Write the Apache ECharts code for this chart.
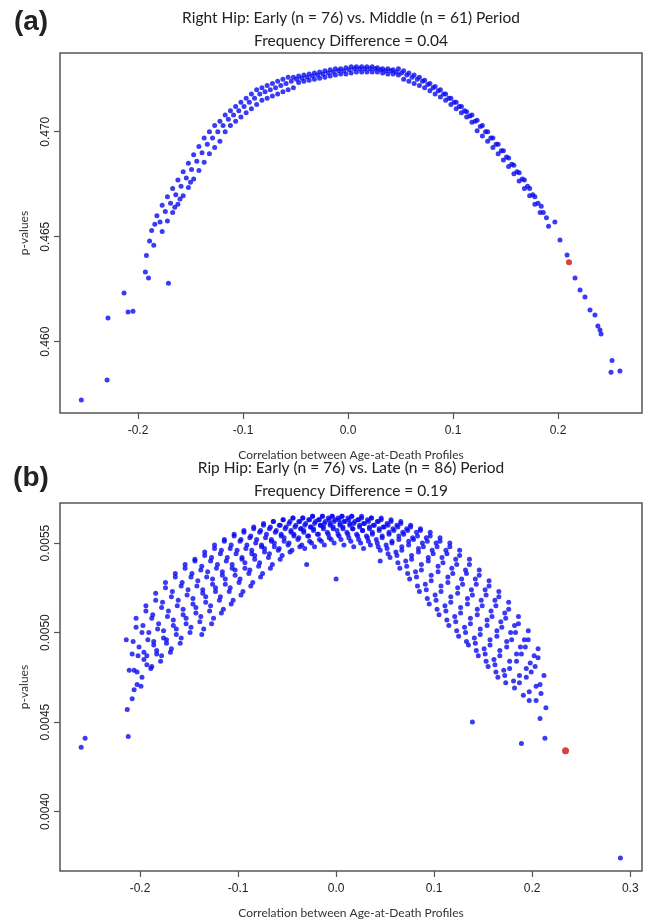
<!DOCTYPE html>
<html>
<head>
<meta charset="utf-8">
<script src="https://cdn.jsdelivr.net/npm/echarts@6/dist/echarts.min.js"></script>
<style>
html,body{margin:0;padding:0;background:#fff;}
#chart{width:647px;height:920px;}
</style>
</head>
<body>
<div id="chart"></div>
<script>
// ---------- DATA ----------
const titleA1 = 'Right Hip: Early (n = 76) vs. Middle (n = 61) Period';
const titleA2 = 'Frequency Difference = 0.04';
const titleB1 = 'Rip Hip: Early (n = 76) vs. Late (n = 86) Period';
const titleB2 = 'Frequency Difference = 0.19';
const xName = 'Correlation between Age-at-Death Profiles';
const yName = 'p-values';

const xTicksA = [-0.2, -0.1, 0.0, 0.1, 0.2];
const yTicksA = [0.460, 0.465, 0.470];
const xTicksB = [-0.2, -0.1, 0.0, 0.1, 0.2, 0.3];
const yTicksB = [0.0040, 0.0045, 0.0050, 0.0055];

// panel (a): [correlation, p-value]
const pointsA = [
[-0.254,0.45722],[-0.2295,0.45818],[-0.2286,0.46113],[-0.2133,0.46232],[-0.2095,0.46141],[-0.2048,0.46145],
[-0.193,0.46332],[-0.190,0.46303],[-0.192,0.4641],[-0.189,0.4648],[-0.187,0.4653],[-0.185,0.4646],[-0.184,0.4656],[-0.171,0.46278],
[-0.182,0.4660],[-0.179,0.4657],[-0.177,0.46525],
[-0.177,0.4665],[-0.174,0.4662],[-0.172,0.46575],
[-0.172,0.4669],[-0.169,0.4666],[-0.167,0.46615],
[-0.167,0.4673],[-0.164,0.4670],[-0.162,0.46655],[-0.165,0.4664],
[-0.162,0.4677],[-0.159,0.4674],[-0.157,0.46695],[-0.160,0.4668],
[-0.157,0.4681],[-0.154,0.4678],[-0.152,0.46735],
[-0.152,0.4685],[-0.149,0.4682],[-0.147,0.46775],[-0.150,0.4676],
[-0.147,0.4689],[-0.144,0.4686],[-0.142,0.46815],
[-0.142,0.4693],[-0.139,0.4690],[-0.137,0.46855],
[-0.137,0.4697],[-0.134,0.4694],[-0.132,0.46895],
[-0.132,0.4700],[-0.129,0.4697],[-0.127,0.46925],
[-0.127,0.4703],[-0.124,0.4700],[-0.122,0.46955],
[-0.122,0.4705],[-0.119,0.4703],[-0.117,0.4700],
[-0.117,0.4708],[-0.114,0.4706],[-0.112,0.4703],
[-0.112,0.4710],[-0.109,0.4708],[-0.107,0.4705],
[-0.107,0.4712],[-0.104,0.4710],[-0.102,0.4707],
[-0.102,0.4714],[-0.099,0.4712],[-0.097,0.4709],
[-0.097,0.4716],[-0.094,0.4714],[-0.092,0.4711],
[-0.092,0.4718],[-0.089,0.4716],[-0.087,0.4713],
[-0.087,0.4720],[-0.084,0.4718],[-0.082,0.4715],
[-0.082,0.4721],[-0.079,0.4719],[-0.077,0.4716],
[-0.077,0.4722],[-0.074,0.4720],[-0.072,0.4717],
[-0.072,0.4723],[-0.069,0.4721],[-0.067,0.4718],
[-0.067,0.4724],[-0.064,0.4722],[-0.062,0.4719],
[-0.062,0.4725],[-0.059,0.4723],[-0.057,0.4720],
[-0.057,0.4726],[-0.054,0.4724],[-0.052,0.4721],
[-0.052,0.4726],[-0.049,0.4725],[-0.047,0.47235],
[-0.047,0.47265],[-0.044,0.47255],[-0.042,0.4724],
[-0.042,0.4727],[-0.039,0.4726],[-0.037,0.47245],
[-0.037,0.47275],[-0.034,0.47265],[-0.032,0.4725],
[-0.032,0.4728],[-0.029,0.4727],[-0.027,0.47255],
[-0.027,0.47285],[-0.024,0.47275],[-0.022,0.4726],
[-0.022,0.4729],[-0.019,0.4728],[-0.017,0.47265],
[-0.017,0.47295],[-0.014,0.47285],[-0.012,0.4727],
[-0.012,0.4730],[-0.009,0.4729],[-0.007,0.47275],
[-0.007,0.4730],[-0.004,0.4729],[-0.002,0.47275],
[-0.002,0.47305],[0.001,0.47295],[0.003,0.4728],
[0.003,0.4731],[0.006,0.4730],[0.008,0.47285],
[0.008,0.4731],[0.011,0.4730],[0.013,0.47285],
[0.013,0.4731],[0.016,0.4730],[0.018,0.47285],
[0.018,0.4731],[0.021,0.4730],[0.023,0.47285],
[0.023,0.4731],[0.026,0.4730],[0.028,0.47285],
[0.028,0.47305],[0.031,0.47295],[0.033,0.4728],
[0.033,0.4730],[0.036,0.4729],[0.038,0.47275],
[0.038,0.4730],[0.041,0.4729],[0.043,0.47275],
[0.043,0.47295],[0.046,0.47285],[0.048,0.4727],
[0.048,0.4730],[0.051,0.4728],[0.053,0.4725],
[0.053,0.4729],[0.056,0.4727],[0.058,0.4724],
[0.058,0.4728],[0.061,0.4726],[0.063,0.4723],
[0.063,0.4727],[0.066,0.4725],[0.068,0.4722],
[0.068,0.4726],[0.071,0.4724],[0.073,0.4721],
[0.073,0.47245],[0.076,0.47225],[0.078,0.47195],
[0.078,0.4723],[0.081,0.4721],[0.083,0.4718],
[0.083,0.47215],[0.086,0.47195],[0.088,0.47165],
[0.088,0.4720],[0.091,0.4718],[0.093,0.4715],
[0.093,0.4718],[0.096,0.4716],[0.098,0.4713],
[0.098,0.4716],[0.101,0.4714],[0.103,0.4711],
[0.103,0.4714],[0.106,0.4712],[0.108,0.4709],
[0.108,0.4712],[0.111,0.4710],[0.113,0.4707],
[0.113,0.47095],[0.116,0.47075],[0.118,0.47045],
[0.118,0.4708],[0.121,0.4705],[0.123,0.47005],
[0.123,0.47055],[0.126,0.47025],[0.128,0.4698],
[0.128,0.4703],[0.131,0.4700],[0.133,0.46955],
[0.133,0.4700],[0.136,0.4697],[0.138,0.46925],
[0.138,0.4697],[0.141,0.4694],[0.143,0.46895],
[0.143,0.4694],[0.146,0.4691],[0.148,0.46865],
[0.148,0.4691],[0.151,0.4688],[0.153,0.46835],
[0.153,0.46875],[0.156,0.46845],[0.158,0.4680],
[0.158,0.4684],[0.161,0.4681],[0.163,0.46765],
[0.163,0.46805],[0.166,0.46775],[0.168,0.4673],
[0.168,0.4677],[0.171,0.4674],[0.173,0.46695],
[0.173,0.4673],[0.176,0.4670],[0.178,0.46655],
[0.178,0.4669],[0.181,0.4666],[0.183,0.46615],
[0.184,0.46645],[0.186,0.46615],
[0.189,0.4659],[0.191,0.4655],
[0.197,0.4657],[0.2019,0.46484],[0.2086,0.46413],[0.2162,0.46303],[0.221,0.46246],[0.2257,0.46213],
[0.2305,0.46151],[0.2352,0.46127],[0.238,0.46075],[0.240,0.46056],[0.241,0.46037],
[0.2515,0.4591],[0.2505,0.45855],[0.259,0.4586]
];
const highlightA = [[0.2105, 0.46379]];

// panel (b): [correlation, p-value]
const pointsB = [
[-0.214,0.00496],[-0.208,0.00488],[-0.211,0.00479],[-0.206,0.00468],[-0.213,0.00457],
[-0.204,0.00508],[-0.198,0.00500],[-0.201,0.00492],[-0.196,0.00485],[-0.203,0.00478],[-0.199,0.00470],
[-0.194,0.00515],[-0.188,0.00508],[-0.191,0.00500],[-0.186,0.00493],[-0.193,0.00487],[-0.189,0.00480],
[-0.184,0.00522],[-0.178,0.00514],[-0.181,0.00505],[-0.176,0.00497],[-0.183,0.00490],[-0.179,0.00484],
[-0.174,0.00528],[-0.168,0.00520],[-0.171,0.00512],[-0.166,0.00504],[-0.173,0.00496],[-0.169,0.00489],
[-0.164,0.00533],[-0.158,0.00526],[-0.161,0.00518],[-0.156,0.00510],[-0.163,0.00502],[-0.159,0.00494],
[-0.154,0.00538],[-0.148,0.00531],[-0.151,0.00524],[-0.146,0.00516],[-0.153,0.00508],[-0.149,0.00500],
[-0.144,0.00541],[-0.138,0.00535],[-0.141,0.00529],[-0.136,0.00522],[-0.143,0.00514],[-0.139,0.00506],[-0.137,0.00499],
[-0.134,0.00545],[-0.128,0.00540],[-0.131,0.00534],[-0.126,0.00527],[-0.133,0.00520],[-0.129,0.00512],[-0.127,0.00505],
[-0.124,0.00549],[-0.118,0.00544],[-0.121,0.00538],[-0.116,0.00532],[-0.123,0.00525],[-0.119,0.00518],[-0.117,0.00511],
[-0.114,0.00552],[-0.108,0.00547],[-0.111,0.00542],[-0.106,0.00536],[-0.113,0.00530],[-0.109,0.00523],[-0.107,0.00516],
[-0.104,0.00555],[-0.098,0.00551],[-0.101,0.00546],[-0.096,0.00541],[-0.103,0.00535],[-0.099,0.00528],[-0.097,0.00521],
[-0.094,0.00557],[-0.088,0.00553],[-0.091,0.00549],[-0.086,0.00544],[-0.093,0.00539],[-0.089,0.00533],[-0.087,0.00526],
[-0.084,0.00559],[-0.078,0.00556],[-0.081,0.00552],[-0.076,0.00548],[-0.083,0.00543],[-0.079,0.00537],[-0.077,0.00531],
[-0.074,0.00561],[-0.068,0.00558],[-0.071,0.00555],[-0.066,0.00551],[-0.073,0.00547],[-0.069,0.00542],[-0.067,0.00536],
[-0.064,0.00562],[-0.058,0.00560],[-0.061,0.00557],[-0.056,0.00554],[-0.063,0.00550],[-0.059,0.00546],[-0.057,0.00541],
[-0.054,0.00563],[-0.048,0.00561],[-0.051,0.00559],[-0.046,0.00556],[-0.053,0.00553],[-0.049,0.00549],[-0.047,0.00545],
[-0.044,0.00564],[-0.038,0.00562],[-0.041,0.00560],[-0.036,0.00558],[-0.043,0.00555],[-0.039,0.00552],[-0.037,0.00548],
[-0.034,0.00564],[-0.028,0.00563],[-0.031,0.00561],[-0.026,0.00559],[-0.033,0.00557],[-0.029,0.00554],[-0.027,0.00551],[-0.032,0.00547],
[-0.024,0.00565],[-0.018,0.00563],[-0.021,0.00562],[-0.016,0.00560],[-0.023,0.00558],[-0.019,0.00555],[-0.017,0.00552],[-0.022,0.00548],
[-0.014,0.00565],[-0.008,0.00564],[-0.011,0.00562],[-0.006,0.00561],[-0.013,0.00559],[-0.009,0.00556],[-0.007,0.00553],[-0.012,0.00549],
[-0.004,0.00565],[0.002,0.00564],[-0.001,0.00563],[0.004,0.00561],[-0.003,0.00559],[0.001,0.00557],[0.003,0.00554],[-0.002,0.00550],
[0.006,0.00565],[0.012,0.00564],[0.009,0.00562],[0.014,0.00561],[0.007,0.00559],[0.011,0.00556],[0.013,0.00553],[0.008,0.00549],
[0.016,0.00565],[0.022,0.00563],[0.019,0.00562],[0.024,0.00560],[0.017,0.00558],[0.021,0.00555],[0.023,0.00552],[0.018,0.00548],
[0.026,0.00564],[0.032,0.00563],[0.029,0.00561],[0.034,0.00559],[0.027,0.00557],[0.031,0.00554],[0.033,0.00551],[0.028,0.00547],
[0.036,0.00564],[0.042,0.00562],[0.039,0.00560],[0.044,0.00558],[0.037,0.00555],[0.041,0.00552],[0.043,0.00548],
[0.046,0.00563],[0.052,0.00561],[0.049,0.00559],[0.054,0.00556],[0.047,0.00553],[0.051,0.00549],[0.053,0.00544],
[0.056,0.00562],[0.062,0.00560],[0.059,0.00557],[0.064,0.00554],[0.057,0.00550],[0.061,0.00545],[0.063,0.00539],
[0.066,0.00561],[0.072,0.00558],[0.069,0.00555],[0.074,0.00551],[0.067,0.00546],[0.071,0.00540],[0.073,0.00533],
[0.076,0.00559],[0.082,0.00556],[0.079,0.00552],[0.084,0.00547],[0.077,0.00541],[0.081,0.00534],[0.083,0.00526],
[0.086,0.00557],[0.092,0.00553],[0.089,0.00548],[0.094,0.00542],[0.087,0.00535],[0.091,0.00527],[0.093,0.00519],
[0.096,0.00554],[0.102,0.00550],[0.099,0.00544],[0.104,0.00537],[0.097,0.00529],[0.101,0.00521],[0.103,0.00513],
[0.106,0.00551],[0.112,0.00546],[0.109,0.00539],[0.114,0.00531],[0.107,0.00523],[0.111,0.00515],[0.113,0.00507],
[0.116,0.00548],[0.122,0.00541],[0.119,0.00533],[0.124,0.00525],[0.117,0.00517],[0.121,0.00509],[0.123,0.00501],
[0.126,0.00543],[0.132,0.00535],[0.129,0.00527],[0.134,0.00519],[0.127,0.00511],[0.131,0.00503],[0.133,0.00495],
[0.136,0.00538],[0.142,0.00530],[0.139,0.00521],[0.144,0.00513],[0.137,0.00505],[0.141,0.00497],[0.143,0.00490],
[0.146,0.00532],[0.152,0.00524],[0.149,0.00515],[0.154,0.00507],[0.147,0.00499],[0.151,0.00491],[0.153,0.00484],
[0.156,0.00526],[0.162,0.00518],[0.159,0.00509],[0.164,0.00501],[0.157,0.00493],[0.161,0.00485],[0.163,0.00478],
[0.166,0.00520],[0.172,0.00511],[0.169,0.00503],[0.174,0.00495],[0.167,0.00487],[0.171,0.00479],[0.173,0.00472],
[0.176,0.00513],[0.182,0.00504],[0.179,0.00496],[0.184,0.00488],[0.177,0.00480],[0.181,0.00473],
[0.186,0.00505],[0.192,0.00496],[0.189,0.00488],[0.194,0.00480],[0.187,0.00472],[0.191,0.00465],
[0.196,0.00496],[0.202,0.00487],[0.199,0.00478],[0.204,0.00470],[0.197,0.00462],
[0.206,0.00486],[0.212,0.00476],[0.209,0.00466],[0.214,0.00458],
[0.213,0.00441],[0.208,0.00452],[-0.256,0.00441],[-0.260,0.00436],[-0.212,0.00442],
[0.139,0.00450],[0.189,0.00438],[0.290,0.00374],[0.000,0.00530],[-0.030,0.00538],[0.045,0.00540],
[-0.204,0.00503],[-0.207,0.00495],[-0.202,0.00487],[-0.206,0.00479],[-0.203,0.00471],[-0.208,0.00463],
[-0.194,0.00512],[-0.197,0.00504],[-0.192,0.00496],[-0.196,0.00489],[-0.193,0.00482],[-0.198,0.00475],
[-0.184,0.00518],[-0.187,0.00510],[-0.182,0.00502],[-0.186,0.00495],[-0.183,0.00488],[-0.188,0.00481],
[-0.174,0.00525],[-0.177,0.00517],[-0.172,0.00509],[-0.176,0.00501],[-0.173,0.00494],[-0.178,0.00487],
[-0.164,0.00531],[-0.167,0.00523],[-0.162,0.00515],[-0.166,0.00507],[-0.163,0.00499],[-0.168,0.00491],
[-0.154,0.00536],[-0.157,0.00528],[-0.152,0.00521],[-0.156,0.00513],[-0.153,0.00505],[-0.158,0.00497],
[-0.144,0.00540],[-0.147,0.00533],[-0.142,0.00526],[-0.146,0.00519],[-0.143,0.00511],[-0.148,0.00503],
[-0.134,0.00543],[-0.137,0.00537],[-0.132,0.00531],[-0.136,0.00524],[-0.133,0.00517],[-0.138,0.00509],[-0.135,0.00502],
[-0.124,0.00547],[-0.127,0.00542],[-0.122,0.00536],[-0.126,0.00530],[-0.123,0.00523],[-0.128,0.00515],[-0.125,0.00508],
[-0.114,0.00551],[-0.117,0.00546],[-0.112,0.00540],[-0.116,0.00534],[-0.113,0.00527],[-0.118,0.00520],[-0.115,0.00513],
[-0.104,0.00554],[-0.107,0.00549],[-0.102,0.00544],[-0.106,0.00538],[-0.103,0.00532],[-0.108,0.00525],[-0.105,0.00518],
[-0.094,0.00556],[-0.097,0.00552],[-0.092,0.00547],[-0.096,0.00542],[-0.093,0.00536],[-0.098,0.00530],[-0.095,0.00523],
[-0.084,0.00558],[-0.087,0.00554],[-0.082,0.00550],[-0.086,0.00546],[-0.083,0.00541],[-0.088,0.00535],[-0.085,0.00528],
[-0.074,0.00560],[-0.077,0.00557],[-0.072,0.00553],[-0.076,0.00549],[-0.073,0.00545],[-0.078,0.00539],[-0.075,0.00533],
[-0.064,0.00562],[-0.067,0.00559],[-0.062,0.00556],[-0.066,0.00552],[-0.063,0.00548],[-0.068,0.00544],[-0.065,0.00538],
[-0.054,0.00563],[-0.057,0.00560],[-0.052,0.00558],[-0.056,0.00555],[-0.053,0.00551],[-0.058,0.00547],[-0.055,0.00543],
[-0.044,0.00564],[-0.047,0.00562],[-0.042,0.00559],[-0.046,0.00557],[-0.043,0.00554],[-0.048,0.00550],[-0.045,0.00546],
[-0.034,0.00564],[-0.037,0.00562],[-0.032,0.00560],[-0.036,0.00558],[-0.033,0.00556],[-0.038,0.00553],[-0.035,0.00549],
[-0.024,0.00565],[-0.027,0.00563],[-0.022,0.00561],[-0.026,0.00559],[-0.023,0.00557],[-0.028,0.00554],[-0.025,0.00550],
[-0.014,0.00565],[-0.017,0.00563],[-0.012,0.00561],[-0.016,0.00560],[-0.013,0.00558],[-0.018,0.00555],[-0.015,0.00551],
[-0.004,0.00565],[-0.007,0.00563],[-0.002,0.00562],[-0.006,0.00560],[-0.003,0.00558],[-0.008,0.00555],[-0.005,0.00552],
[0.006,0.00565],[0.003,0.00563],[0.008,0.00562],[0.004,0.00560],[0.007,0.00558],[0.002,0.00555],[0.005,0.00552],
[0.016,0.00565],[0.013,0.00563],[0.018,0.00561],[0.014,0.00560],[0.017,0.00558],[0.012,0.00555],[0.015,0.00551],
[0.026,0.00565],[0.023,0.00563],[0.028,0.00561],[0.024,0.00559],[0.027,0.00557],[0.022,0.00554],[0.025,0.00550],
[0.036,0.00564],[0.033,0.00562],[0.038,0.00560],[0.034,0.00558],[0.037,0.00556],[0.032,0.00553],[0.035,0.00549],
[0.046,0.00564],[0.043,0.00562],[0.048,0.00559],[0.044,0.00557],[0.047,0.00554],[0.042,0.00550],[0.045,0.00546],
[0.056,0.00563],[0.053,0.00560],[0.058,0.00558],[0.054,0.00555],[0.057,0.00551],[0.052,0.00547],[0.055,0.00542],
[0.066,0.00562],[0.063,0.00559],[0.068,0.00556],[0.064,0.00552],[0.067,0.00548],[0.062,0.00543],[0.065,0.00536],
[0.076,0.00560],[0.073,0.00557],[0.078,0.00553],[0.074,0.00549],[0.077,0.00543],[0.072,0.00537],[0.075,0.00530],
[0.086,0.00558],[0.083,0.00554],[0.088,0.00550],[0.084,0.00545],[0.087,0.00538],[0.082,0.00531],[0.085,0.00523],
[0.096,0.00556],[0.093,0.00551],[0.098,0.00546],[0.094,0.00540],[0.097,0.00532],[0.092,0.00524],[0.095,0.00516],
[0.106,0.00553],[0.103,0.00548],[0.108,0.00542],[0.104,0.00534],[0.107,0.00526],[0.102,0.00518],[0.105,0.00510],
[0.116,0.00550],[0.113,0.00544],[0.118,0.00536],[0.114,0.00528],[0.117,0.00520],[0.112,0.00512],[0.115,0.00504],
[0.126,0.00546],[0.123,0.00538],[0.128,0.00530],[0.124,0.00522],[0.127,0.00514],[0.122,0.00506],[0.125,0.00498],
[0.136,0.00541],[0.133,0.00533],[0.138,0.00524],[0.134,0.00516],[0.137,0.00508],[0.132,0.00500],[0.135,0.00493],
[0.146,0.00535],[0.143,0.00527],[0.148,0.00518],[0.144,0.00510],[0.147,0.00502],[0.142,0.00494],[0.145,0.00487],
[0.156,0.00529],[0.153,0.00521],[0.158,0.00512],[0.154,0.00504],[0.157,0.00496],[0.152,0.00488],[0.155,0.00481],
[0.166,0.00523],[0.163,0.00515],[0.168,0.00506],[0.164,0.00498],[0.167,0.00490],[0.162,0.00482],[0.165,0.00475],
[0.176,0.00517],[0.173,0.00508],[0.178,0.00500],[0.174,0.00492],[0.177,0.00484],[0.172,0.00476],
[0.186,0.00509],[0.183,0.00500],[0.188,0.00492],[0.184,0.00484],[0.187,0.00476],[0.182,0.00469],
[0.196,0.00501],[0.193,0.00492],[0.198,0.00483],[0.194,0.00475],[0.197,0.00467],
[0.206,0.00491],[0.203,0.00481],[0.208,0.00471],[0.204,0.00462]
];
const highlightB = [[0.234, 0.00434]];

// ---------- CHART ----------
const chart = echarts.init(document.getElementById('chart'), null, {renderer: 'canvas'});
const tickFont = 'Liberation Sans';
const textFont = 'Lato';
const frame = '#555';

function xAxisDef(gridIndex, min, max, ticks) {
  return {
    type: 'value', gridIndex, min, max,
    name: xName, nameLocation: 'middle', nameGap: 36,
    nameTextStyle: {fontFamily: textFont, fontSize: 12, color: '#333'},
    splitLine: {show: false},
    axisLine: {show: false, onZero: false},
    axisTick: {show: true, inside: false, length: 6, customValues: ticks, lineStyle: {color: frame, width: 1.2}},
    axisLabel: {show: true, margin: 12, customValues: ticks, fontFamily: tickFont, fontSize: 12, color: '#222',
      formatter: v => Number(v).toFixed(1)}
  };
}
function yAxisDef(gridIndex, min, max, ticks, dec) {
  return {
    type: 'value', gridIndex, min, max,
    name: yName, nameLocation: 'middle', nameGap: 30, nameRotate: 90,
    nameTextStyle: {fontFamily: textFont, fontSize: 12, color: '#333'},
    splitLine: {show: false},
    axisLine: {show: false, onZero: false},
    axisTick: {show: true, inside: false, length: 6, customValues: ticks, lineStyle: {color: frame, width: 1.2}},
    axisLabel: {show: true, margin: 8, rotate: 90, customValues: ticks, fontFamily: tickFont, fontSize: 12, color: '#222',
      formatter: v => Number(v).toFixed(dec)}
  };
}
function txt(x, y, text, size, weight, font) {
  return {type: 'text', x, y, silent: true,
    style: {text, fontSize: size, fontWeight: weight || 'normal', fontFamily: font || textFont,
      fill: '#222', textAlign: 'center', textVerticalAlign: 'middle'}};
}

chart.setOption({
  animation: false,
  backgroundColor: '#fff',
  grid: [
    {left: 60, right: 5, top: 53, height: 360, show: true, borderColor: frame, borderWidth: 1.5, containLabel: false},
    {left: 60, right: 5, top: 503, height: 370, show: true, borderColor: frame, borderWidth: 1.5, containLabel: false}
  ],
  xAxis: [
    xAxisDef(0, -0.2743, 0.2800, xTicksA),
    xAxisDef(1, -0.2816, 0.3120, xTicksB)
  ],
  yAxis: [
    yAxisDef(0, 0.456605, 0.47375, yTicksA, 3),
    yAxisDef(1, 0.003668, 0.005724, yTicksB, 4)
  ],
  graphic: [
    txt(31, 22, '(a)', 28, 'bold', 'Liberation Sans'),
    txt(351, 18, titleA1, 15.5),
    txt(351, 41, titleA2, 15.5),
    txt(31, 478, '(b)', 28, 'bold', 'Liberation Sans'),
    txt(351, 468, titleB1, 15.5),
    txt(351, 491, titleB2, 15.5)
  ],
  series: [
    {type: 'scatter', xAxisIndex: 0, yAxisIndex: 0, data: pointsA, symbolSize: 5,
      itemStyle: {color: '#0a0af0'}, silent: true},
    {type: 'scatter', xAxisIndex: 0, yAxisIndex: 0, data: highlightA, symbolSize: 6,
      itemStyle: {color: '#d01010'}, silent: true, z: 3},
    {type: 'scatter', xAxisIndex: 1, yAxisIndex: 1, data: pointsB, symbolSize: 5,
      itemStyle: {color: '#0a0af0'}, silent: true},
    {type: 'scatter', xAxisIndex: 1, yAxisIndex: 1, data: highlightB, symbolSize: 7,
      itemStyle: {color: '#d01010'}, silent: true, z: 3}
  ]
});
</script>
</body>
</html>
